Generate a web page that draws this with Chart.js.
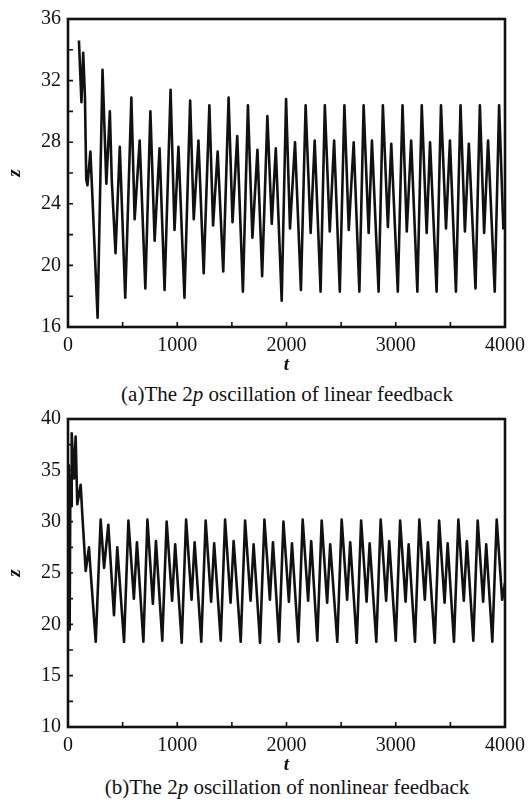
<!DOCTYPE html>
<html><head><meta charset="utf-8">
<script src="https://cdn.jsdelivr.net/npm/chart.js@4"></script>
<style>
html,body{margin:0;padding:0;background:#fff;width:532px;height:803px;overflow:hidden;position:relative;}
.wrap{position:absolute;left:0;width:532px;}
canvas{display:block;}
.cap{position:absolute;left:37px;width:500px;text-align:center;font-family:'Liberation Serif',serif;font-size:21px;color:#111;line-height:24px;white-space:nowrap;}
</style></head><body>
<div class="wrap" style="top:0;height:375px"><canvas id="c1" width="532" height="375"></canvas></div>
<div class="cap" style="top:382px">(a)The 2<i>p</i> oscillation of linear feedback</div>
<div class="wrap" style="top:400px;height:375px"><canvas id="c2" width="532" height="375"></canvas></div>
<div class="cap" style="top:775px">(b)The 2<i>p</i> oscillation of nonlinear feedback</div>
<script>
// ---- data (a): linear feedback ----
const tA = [100,123,139,155,167,178,205,223,271,
  316,351,383,401,435,474,524,
  580,610,656,708,
  754,793,838,884,
  939,975,1011,1066,
  1118,1151,1194,1242,
  1294,1328,1370,1421,
  1470,1506,1549,1601,
  1647,1688,1734,1777,
  1825,1865,1902,1956,
  1996,2032,2078,2132,
  2175,2221,2258,2312,
  2351,2396,2436,2488,
  2530,2570,2615,2667,
  2706,2752,2782,2843,
  2882,2928,2959,3019,
  3062,3101,3141,3198,
  3238,3283,3314,3374,
  3414,3460,3496,3551,
  3593,3633,3669,3730,
  3770,3809,3845,3906,
  3946,3985,4000];
const zA = [34.6,30.6,33.8,31.0,25.6,25.2,27.4,24.5,16.6,
  32.7,25.3,30.0,25.5,20.8,27.7,17.9,
  30.9,23.0,28.1,18.5,
  30.0,21.6,27.6,18.4,
  31.4,22.3,27.7,17.9,
  30.7,23.0,28.1,19.5,
  30.4,22.6,27.4,19.6,
  30.9,22.8,28.4,18.3,
  30.4,21.8,27.5,19.3,
  29.7,22.7,27.6,17.7,
  30.8,22.4,28.0,18.4,
  30.4,22.1,28.1,18.3,
  30.4,22.2,28.1,18.3,
  30.4,22.3,28.0,18.3,
  30.4,22.1,28.1,18.3,
  30.4,22.5,27.9,18.3,
  30.4,22.2,28.1,18.3,
  30.4,22.1,28.0,18.3,
  30.4,22.4,28.1,18.3,
  30.4,22.2,27.9,18.5,
  30.4,22.1,28.1,18.3,
  30.4,22.4,23.5];
// ---- data (b): nonlinear feedback ----
const tB = [0,8,15,22,30,34,55,70,85,116,131,162,192,208,254,299,330,369,421,451,513,
  553,603,631,690,
  727,777,805,863,
  903,953,981,1041,
  1081,1131,1159,1220,
  1260,1310,1338,1398,
  1438,1488,1516,1581,
  1621,1671,1699,1758,
  1798,1848,1876,1932,
  1972,2022,2050,2108,
  2148,2198,2226,2282,
  2322,2372,2400,2465,
  2505,2555,2583,2643,
  2683,2733,2761,2822,
  2862,2912,2940,3000,
  3040,3090,3118,3176,
  3216,3266,3294,3357,
  3397,3447,3475,3533,
  3573,3623,3651,3710,
  3750,3800,3828,3884,
  3924,3974,4000];
const zB = [20.0,35.5,19.5,34.5,31.5,38.6,34.2,38.3,31.7,33.6,30.7,25.2,27.5,25.0,18.3,30.2,25.5,29.7,20.9,27.5,18.3,
  30.1,22.5,28.0,18.3,
  30.2,22.0,28.1,18.4,
  30.0,22.3,27.8,18.2,
  30.2,22.4,28.0,18.3,
  30.1,22.2,27.9,18.4,
  30.2,22.1,28.1,18.3,
  30.1,22.3,27.8,18.2,
  30.2,22.4,28.0,18.3,
  30.0,22.2,27.9,18.3,
  30.2,22.3,28.1,18.4,
  30.1,22.1,27.8,18.3,
  30.2,22.4,28.0,18.2,
  30.1,22.2,27.9,18.3,
  30.2,22.3,28.1,18.4,
  30.1,22.2,27.8,18.3,
  30.2,22.4,28.0,18.2,
  30.1,22.1,27.9,18.3,
  30.2,22.3,28.1,18.4,
  30.1,22.2,27.8,18.3,
  30.2,22.4,24.0];
// ---- axes ----
const xTickMarks = [0,500,1000,1500,2000,2500,3000,3500,4000];
const yTickMarksA = [16,18,20,22,24,26,28,30,32,34,36];
const yTickMarksB = [10,12.5,15,17.5,20,22.5,25,27.5,30,32.5,35,37.5,40];

const FONT = 'Liberation Serif';
const INK = '#111';

const framePlugin = {
  id: 'frame',
  afterDraw(chart, args, opts) {
    const {ctx, chartArea: a, scales} = chart;
    ctx.save();
    ctx.strokeStyle = INK;
    ctx.lineWidth = 1.6;
    ctx.beginPath();
    xTickMarks.forEach(v => {
      const px = scales.x.getPixelForValue(v);
      ctx.moveTo(px, a.bottom); ctx.lineTo(px, a.bottom - 5);
    });
    opts.yMarks.forEach(v => {
      const py = scales.y.getPixelForValue(v);
      ctx.moveTo(a.left, py); ctx.lineTo(a.left + 5, py);
    });
    ctx.stroke();
    ctx.lineWidth = 2.6;
    ctx.strokeRect(a.left, a.top, a.right - a.left, a.bottom - a.top);
    ctx.restore();
  }
};

function makeChart(id, t, z, yMin, yMax, yStep, yMarks, padTop) {
  return new Chart(document.getElementById(id), {
    type: 'line',
    data: { datasets: [{
      data: t.map((v, i) => ({x: v, y: z[i]})),
      borderColor: INK, borderWidth: 2.6, borderJoinStyle: 'round',
      pointRadius: 0, tension: 0, fill: false
    }]},
    options: {
      responsive: false, animation: false, events: [],
      layout: {padding: {top: padTop, right: 25, left: 0, bottom: 0}},
      plugins: {legend: {display: false}, tooltip: {enabled: false}, frame: {yMarks}},
      scales: {
        x: {
          type: 'linear', min: 0, max: 4000,
          grid: {display: false, drawTicks: false}, border: {display: false},
          ticks: {stepSize: 1000, padding: 7, color: INK, maxRotation: 0, autoSkip: false,
                  callback: v => String(v),
                  font: {family: FONT, size: 20}},
          title: {display: true, text: 't', color: INK, padding: {top: 0, bottom: 0},
                  font: {family: FONT, size: 19, style: 'italic', weight: 'bold', lineHeight: 1}},
          afterFit(s) { s.height = 48; }
        },
        y: {
          type: 'linear', min: yMin, max: yMax,
          grid: {display: false, drawTicks: false}, border: {display: false},
          ticks: {stepSize: yStep, padding: 7, color: INK, autoSkip: false,
                  callback: v => String(v),
                  font: {family: FONT, size: 20}},
          title: {display: true, text: 'z', color: INK, padding: {top: 6, bottom: 0},
                  font: {family: FONT, size: 19, style: 'italic', weight: 'bold', lineHeight: 1}},
          afterFit(s) { s.width = 68; }
        }
      }
    },
    plugins: [framePlugin]
  });
}

makeChart('c1', tA, zA, 16, 36, 4, yTickMarksA, 16);
makeChart('c2', tB, zB, 10, 40, 5, yTickMarksB, 18);
</script>
</body></html>
